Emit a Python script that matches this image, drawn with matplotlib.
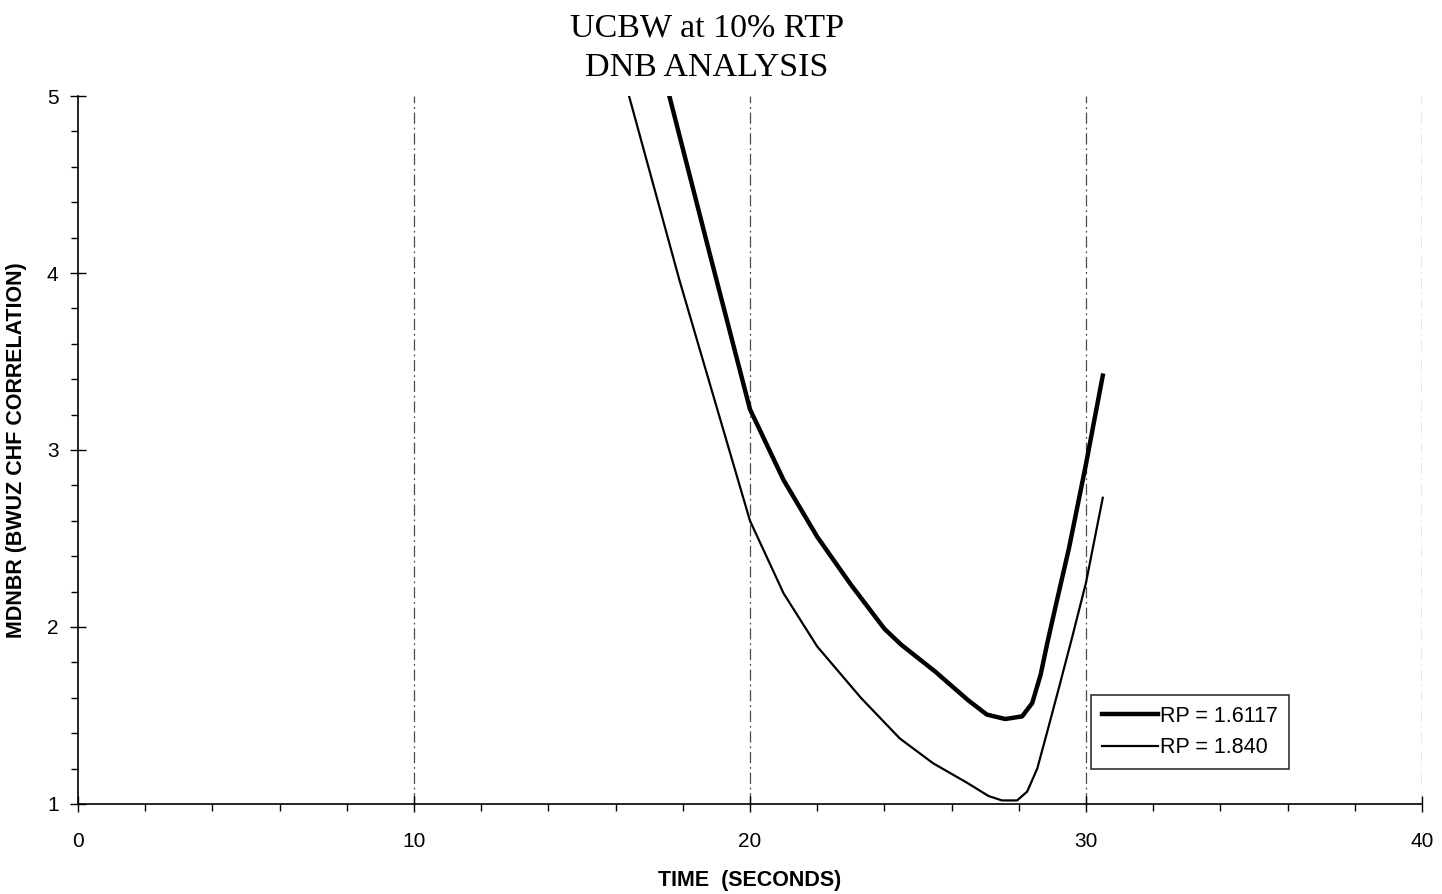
import matplotlib.pyplot as plt
import numpy as np
from matplotlib.ticker import MultipleLocator

# curve readings (time in s, MDNBR)
t_rp16 = [17.6, 18.8, 20.0, 21.0, 22.0, 23.0, 24.0, 24.5, 25.5, 26.5, 27.05, 27.6, 28.1, 28.4,
          28.65, 28.85, 29.1, 29.5, 30.0, 30.5]
mdnbr_rp16 = [5.0, 4.11, 3.23, 2.83, 2.51, 2.24, 1.99, 1.90, 1.75, 1.585, 1.505, 1.48, 1.495, 1.57,
              1.73, 1.91, 2.12, 2.45, 2.92, 3.42]

t_rp18 = [16.4, 17.9, 20.0, 21.0, 22.0, 23.3, 24.46, 25.45, 26.46, 27.1, 27.5, 27.95, 28.25, 28.55,
          28.85, 29.2, 29.6, 30.0, 30.5]
mdnbr_rp18 = [5.0, 3.96, 2.60, 2.19, 1.89, 1.60, 1.37, 1.23, 1.12, 1.045, 1.02, 1.02, 1.07, 1.20,
              1.41, 1.66, 1.95, 2.25, 2.73]

labels = ["RP = 1.6117", "RP = 1.840"]

plt.rcParams['font.family'] = ['Liberation Sans', 'DejaVu Sans']

fig = plt.figure(figsize=(14.42, 8.94), dpi=100)
ax = fig.add_axes([0.0541, 0.1007, 0.932, 0.7919])

ax.plot(t_rp16, mdnbr_rp16, color='black', lw=3.2, label=labels[0],
        solid_joinstyle='round')
ax.plot(t_rp18, mdnbr_rp18, color='black', lw=1.6, label=labels[1],
        solid_joinstyle='round')

for xv in [10, 20, 30, 40]:
    ax.axvline(xv, color='0.3', lw=0.9, linestyle=(0, (9, 3, 1.5, 3)), zorder=0)

ax.set_xlim(0, 40)
ax.set_ylim(1, 5)
ax.xaxis.set_major_locator(MultipleLocator(10))
ax.xaxis.set_minor_locator(MultipleLocator(2))
ax.yaxis.set_major_locator(MultipleLocator(1))
ax.yaxis.set_minor_locator(MultipleLocator(0.2))
ax.tick_params(which='major', direction='inout', length=12, width=1, labelsize=15, pad=8)
ax.tick_params(which='minor', direction='out', length=5, width=1)
ax.tick_params(axis='x', which='major', pad=14)

ax.spines['top'].set_visible(False)
ax.spines['right'].set_visible(False)
ax.spines['left'].set_linewidth(1.2)
ax.spines['bottom'].set_linewidth(1.2)

ax.set_xlabel("TIME  (SECONDS)", fontsize=15.5, fontweight='bold', labelpad=14)
ax.set_ylabel("MDNBR (BWUZ CHF CORRELATION)", fontsize=15.5, fontweight='bold', labelpad=14)

fig.text(0.49, 0.986, "UCBW at 10% RTP\nDNB ANALYSIS", ha='center', va='top',
         fontsize=24.5, family='Liberation Serif', linespacing=1.4)

leg = ax.legend(loc='upper left', bbox_to_anchor=(0.754, 0.154), borderaxespad=0,
                fontsize=15.5, frameon=True, fancybox=False, edgecolor='black',
                handlelength=2.6, handletextpad=0.1, borderpad=0.5, labelspacing=0.5)
leg.get_frame().set_linewidth(1.2)

plt.savefig("out.png", dpi=100)
